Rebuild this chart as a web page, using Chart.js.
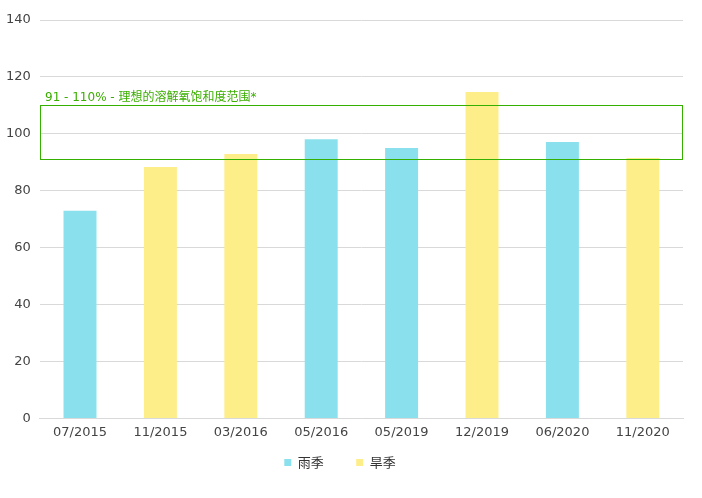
<!DOCTYPE html>
<html>
<head>
<meta charset="utf-8">
<script src="https://cdn.jsdelivr.net/npm/chart.js@4"></script>
<style>
  html, body { margin: 0; padding: 0; background: #fff; }
  #wrap { width: 702px; height: 498px; }
</style>
</head>
<body>
<div id="wrap"><canvas id="chart"></canvas></div>
<script>
const categories = ['07/2015', '11/2015', '03/2016', '05/2016', '05/2019', '12/2019', '06/2020', '11/2020'];
const rainySeason = [73, null, null, 98.1, 95, null, 97.1, null];
const drySeason = [null, 88.3, 92.9, null, null, 114.7, null, 91.5];
const yTicks = [0, 20, 40, 60, 80, 100, 120, 140];
const idealRange = [91, 110];
const idealLabel = '91 - 110% - 理想的溶解氧饱和度范围*';

const FONT = 'DejaVu Sans, sans-serif';

// 理想范围框和说明文字
const rangeBox = {
  id: 'rangeBox',
  afterDatasetsDraw(chart) {
    const { ctx, chartArea, scales } = chart;
    const yTop = Math.round(scales.y.getPixelForValue(idealRange[1]));
    const yBot = Math.round(scales.y.getPixelForValue(idealRange[0]));
    const left = Math.round(chartArea.left), right = Math.round(chartArea.right);
    ctx.save();
    ctx.strokeStyle = '#33b000';
    ctx.lineWidth = 1;
    ctx.strokeRect(left + 0.5, yTop + 0.5, right - left - 1, yBot - yTop);
    ctx.fillStyle = '#3aae00';
    ctx.font = '12px ' + FONT + ', "Noto Sans CJK SC"';
    ctx.textBaseline = 'bottom';
    ctx.fillText(idealLabel, left + 5, yTop - 1.5);
    ctx.restore();
  }
};

new Chart(document.getElementById('chart'), {
  type: 'bar',
  data: {
    labels: categories,
    datasets: [
      { label: '雨季', data: rainySeason, backgroundColor: '#8ae0ec' },
      { label: '旱季', data: drySeason, backgroundColor: '#feee8a' }
    ]
  },
  options: {
    responsive: true,
    maintainAspectRatio: false,
    animation: false,
    barPercentage: 0.5,
    categoryPercentage: 0.82,
    layout: { padding: { top: 20, right: 19, left: -3, bottom: 19 } },
    plugins: {
      tooltip: { enabled: false },
      legend: {
        position: 'bottom',
        labels: {
          usePointStyle: true,
          pointStyle: 'rect',
          boxWidth: 7,
          boxHeight: 7,
          padding: 10,
          color: '#333',
          font: { family: '"Noto Sans CJK SC", ' + FONT, size: 13 },
          // 图例项之间留宽一点（最后一项不加）
          generateLabels: chart => {
            const items = Chart.defaults.plugins.legend.labels.generateLabels(chart);
            items.slice(0, -1).forEach(l => { l.text += '\u3000\u2002 '; });
            return items;
          }
        }
      }
    },
    scales: {
      x: {
        stacked: true,
        grid: { display: false, drawTicks: false },
        border: { color: '#d9d9d9' },
        ticks: { color: '#444', font: { family: FONT, size: 13 }, padding: 6 }
      },
      y: {
        stacked: true,
        min: 0,
        max: 140,
        afterBuildTicks: axis => { axis.ticks = yTicks.map(v => ({ value: v })); },
        grid: { color: '#d9d9d9', drawTicks: false },
        border: { display: false },
        ticks: { color: '#444', font: { family: FONT, size: 13 }, padding: 9 }
      }
    }
  },
  plugins: [rangeBox]
});
</script>
</body>
</html>
